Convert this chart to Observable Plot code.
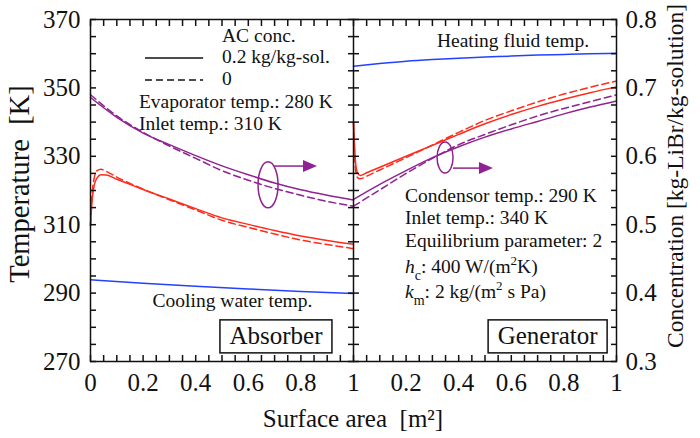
<!DOCTYPE html>
<html><head><meta charset="utf-8">
<script src="https://cdn.jsdelivr.net/npm/d3@7"></script>
<script src="https://cdn.jsdelivr.net/npm/@observablehq/plot@0.6"></script>
<style>
body{margin:0;background:#fff;}
#chart svg, #chart svg text{font-family:"Liberation Serif","Times New Roman",serif;}
</style></head><body><div id="chart"></div>
<script>
// ---------- data ----------
const panels = ["Absorber", "Generator"];
// Absorber
const xAbsRed = [0,0.004,0.008,0.015,0.025,0.04,0.06,0.1,0.15,0.2,0.3,0.4,0.5,0.6,0.7,0.8,0.9,1];
const absRedSolid  = [309.8,315.0,318.5,321.8,323.7,324.6,324.5,323.3,321.8,320.3,317.5,314.7,312.0,310.1,308.3,306.7,305.4,304.3];
const absRedDashed = [309.8,316.5,320.5,324.0,325.8,326.2,325.6,323.9,322.1,320.4,317.3,314.3,311.3,309.2,307.3,305.5,304.2,303.0];
const xAbsBlue = [0,0.2,0.4,0.6,0.8,1];
const absBlue = [293.9,292.9,292.0,291.2,290.5,289.9];
const xTenth = [0,0.1,0.2,0.3,0.4,0.5,0.6,0.7,0.8,0.9,1];
const absConcSolid  = [0.686,0.657,0.634,0.617,0.601,0.586,0.573,0.561,0.551,0.543,0.536];
const absConcDashed = [0.690,0.659,0.635,0.615,0.597,0.579,0.565,0.553,0.543,0.534,0.527];
// Generator
const xGenRed = [0,0.004,0.008,0.015,0.025,0.05,0.1,0.2,0.3,0.4,0.5,0.6,0.7,0.8,0.9,1];
const genRedSolid  = [340.0,333.0,328.0,325.2,324.4,325.2,326.8,330.0,333.2,336.4,339.5,342.2,344.6,346.7,348.6,350.3];
const genRedDashed = [340.0,331.0,326.0,323.8,323.4,324.2,326.0,329.6,333.3,337.0,340.5,343.3,345.9,348.2,350.2,352.0];
const genBlue = [356.3,357.1,357.8,358.3,358.7,359.0,359.3,359.6,359.8,360.0,360.1];
const genConcSolid  = [0.537,0.559,0.579,0.598,0.614,0.628,0.640,0.651,0.662,0.672,0.681];
const genConcDashed = [0.527,0.551,0.575,0.597,0.617,0.632,0.646,0.659,0.670,0.680,0.690];

// tick labels
const tempTicks = [270,290,310,330,350,370];
const concTicks = [0.3,0.4,0.5,0.6,0.7,0.8];
const areaTicks = [0,0.2,0.4,0.6,0.8,1];

// ---------- styling ----------
const SERIF = "Liberation Serif, Times New Roman, serif";
const RED = "#ff2b1c", BLUE = "#2441ff", PURPLE = "#8e2391";
const W = 700, H = 438, mL = 90, mR = 84, mT = 19, mB = 77;
const plotW = W - mL - mR;
const offset = {Absorber: 0, Generator: 1};
const tempDomain = [270, 370], concDomain = [0.3, 0.8];
const concToT = c => tempDomain[0] + (c - concDomain[0]) / (concDomain[1] - concDomain[0]) * (tempDomain[1] - tempDomain[0]);
const tToConc = t => concDomain[0] + (t - tempDomain[0]) / (tempDomain[1] - tempDomain[0]) * (concDomain[1] - concDomain[0]);

const series = [
  {panel:"Absorber",  xs:xAbsRed,  ys:absRedSolid,   color:RED,    dash:false, conc:false},
  {panel:"Absorber",  xs:xAbsRed,  ys:absRedDashed,  color:RED,    dash:true,  conc:false},
  {panel:"Absorber",  xs:xAbsBlue, ys:absBlue,       color:BLUE,   dash:false, conc:false},
  {panel:"Absorber",  xs:xTenth,   ys:absConcSolid,  color:PURPLE, dash:false, conc:true},
  {panel:"Absorber",  xs:xTenth,   ys:absConcDashed, color:PURPLE, dash:true,  conc:true},
  {panel:"Generator", xs:xGenRed,  ys:genRedSolid,   color:RED,    dash:false, conc:false},
  {panel:"Generator", xs:xGenRed,  ys:genRedDashed,  color:RED,    dash:true,  conc:false},
  {panel:"Generator", xs:xTenth,   ys:genBlue,       color:BLUE,   dash:false, conc:false},
  {panel:"Generator", xs:xTenth,   ys:genConcSolid,  color:PURPLE, dash:false, conc:true},
  {panel:"Generator", xs:xTenth,   ys:genConcDashed, color:PURPLE, dash:true,  conc:true}
];

const lineMarks = series.map(s => {
  const pts = s.xs.map((x, i) => ({x: offset[s.panel] + x, y: s.conc ? concToT(s.ys[i]) : s.ys[i]}));
  const o = {x:"x", y:"y", stroke:s.color, strokeWidth:1.5, curve:"monotone-x"};
  if (s.dash) o.strokeDasharray = "7,4";
  return Plot.line(pts, o);
});

// ticks
const xMinor = d3.range(41).map(i => i / 20);
const xMajor = [...areaTicks, ...areaTicks.slice(1).map(v => v + 1)];
const fmtX = d => { const v = d > 1 ? d - 1 : d; return String(+v.toFixed(2)); };
const yMinor = d3.range(21).map(i => 270 + 5 * i);
const rightTicks = concTicks.map(concToT);

// ---------- annotations ----------
const ns = "http://www.w3.org/2000/svg";
const el = (tag, attrs) => { const e = document.createElementNS(ns, tag); for (const k in attrs) e.setAttribute(k, attrs[k]); return e; };

const notes = [
  {x:0.502, y:363.3, parts:[{t:"AC conc."}]},
  {x:0.502, y:357.1, parts:[{t:"0.2 kg/kg-sol."}]},
  {x:0.502, y:350.7, parts:[{t:"0"}]},
  {x:0.186, y:344.0, parts:[{t:"Evaporator temp.: 280 K"}]},
  {x:0.186, y:337.5, parts:[{t:"Inlet temp.: 310 K"}]},
  {x:0.238, y:285.9, parts:[{t:"Cooling water temp."}]},
  {x:1.319, y:361.9, parts:[{t:"Heating fluid temp."}]},
  {x:1.198, y:316.6, parts:[{t:"Condensor temp.: 290 K"}]},
  {x:1.198, y:310.1, parts:[{t:"Inlet temp.: 340 K"}]},
  {x:1.198, y:303.4, parts:[{t:"Equilibrium parameter: 2"}]},
  {x:1.198, y:295.7, parts:[{t:"h", italic:true}, {t:"c", sub:true}, {t:": 400 W/(m"}, {t:"2", sup:true}, {t:"K)"}]},
  {x:1.198, y:288.4, parts:[{t:"k", italic:true}, {t:"m", sub:true}, {t:": 2 kg/(m"}, {t:"2", sup:true}, {t:" s Pa)"}]}
];
const legendLines = [
  {x1:0.209, x2:0.430, y:358.6, dash:false},
  {x1:0.209, x2:0.430, y:352.2, dash:true}
];
const boxes = [
  {label:"Absorber",  x:0.707, y:277.2, w:112, h:33},
  {label:"Generator", x:1.740, y:277.2, w:119, h:33}
];
const pointers = [
  {x:0.677, y:321.5, rx:10, ry:23, ay:327.0, ax1:0.700, ax2:0.863},
  {x:1.350, y:329.5, rx:8, ry:15.5, ay:326.4, ax1:1.380, ax2:1.532}
];

function notesMark(index, scales) {
  const g = el("g", {fill:"#111", "font-size":19.5, "text-anchor":"start", "font-family":SERIF});
  for (const n of notes) {
    const t = el("text", {x:scales.x(n.x), y:scales.y(n.y), "text-anchor":"start"});
    let shift = 0;
    for (const p of n.parts) {
      const s = el("tspan", {});
      let target = 0;
      if (p.sub) { target = 7; s.setAttribute("font-size", 14); }
      if (p.sup) { target = -8; s.setAttribute("font-size", 13); }
      if (target !== shift) { s.setAttribute("dy", target - shift); shift = target; }
      if (p.italic) s.setAttribute("font-style", "italic");
      s.textContent = p.t;
      t.appendChild(s);
    }
    g.appendChild(t);
  }
  for (const l of legendLines) {
    const a = {x1:scales.x(l.x1), x2:scales.x(l.x2), y1:scales.y(l.y), y2:scales.y(l.y), stroke:"#111", "stroke-width":1.5};
    if (l.dash) a["stroke-dasharray"] = "7,4";
    g.appendChild(el("line", a));
  }
  for (const b of boxes) {
    const cx = scales.x(b.x), cy = scales.y(b.y);
    g.appendChild(el("rect", {x:cx - b.w/2, y:cy - b.h/2, width:b.w, height:b.h, fill:"white", stroke:"#111", "stroke-width":1.5}));
    const t = el("text", {x:cx, y:cy + 8, "text-anchor":"middle", "font-size":25});
    t.textContent = b.label;
    g.appendChild(t);
  }
  for (const p of pointers) {
    const cx = scales.x(p.x), cy = scales.y(p.y), ay = scales.y(p.ay);
    const x1 = scales.x(p.ax1), x2 = scales.x(p.ax2);
    g.appendChild(el("ellipse", {cx, cy, rx:p.rx, ry:p.ry, fill:"none", stroke:PURPLE, "stroke-width":1.5}));
    g.appendChild(el("line", {x1, x2:x2 - 12, y1:ay, y2:ay, stroke:PURPLE, "stroke-width":1.5}));
    g.appendChild(el("path", {d:`M${x2},${ay}L${x2-14},${ay-6}L${x2-14},${ay+6}Z`, fill:PURPLE}));
  }
  return g;
}

function titlesMark(index, scales, values, dims) {
  const g = el("g", {fill:"#111", "font-size":25, "font-family":SERIF});
  const {width, height, marginLeft, marginRight, marginTop, marginBottom} = dims;
  const cx = (marginLeft + width - marginRight) / 2;
  const cy = (marginTop + height - marginBottom) / 2;
  const xt = el("text", {x:cx, y:height - 11, "text-anchor":"middle"});
  xt.textContent = "Surface area\u2002[m²]";
  g.appendChild(xt);
  const yl = el("text", {transform:`translate(${marginLeft - 61},${cy - 6}) rotate(-90)`, "text-anchor":"middle", "font-size":28.5});
  yl.textContent = "Temperature\u2002[K]";
  g.appendChild(yl);
  const yr = el("text", {transform:`translate(${width - marginRight + 67},${cy - 14}) rotate(-90)`, "text-anchor":"middle", "font-size":23.5});
  yr.textContent = "Concentration [kg-LiBr/kg-solution]";
  g.appendChild(yr);
  return g;
}

const blank = () => "";
const tickOpts = {label:null, strokeWidth:1.5, tickFormat:blank, tickSize:-6};
const labelOpts = {label:null, tickSize:0, fontSize:25, fontFamily:SERIF};
const chart = Plot.plot({
  width: W, height: H,
  marginLeft: mL, marginRight: mR, marginTop: mT, marginBottom: mB,
  x: {domain: [0, 2]},
  y: {domain: tempDomain},
  style: {fontFamily: SERIF, fontSize: "25px", color: "#111", background: "white"},
  marks: [
    ...lineMarks,
    notesMark,
    Plot.axisX({...tickOpts, anchor:"bottom", ticks:xMinor}),
    Plot.axisX({...tickOpts, anchor:"top", ticks:xMinor}),
    Plot.axisX({...labelOpts, anchor:"bottom", ticks:xMajor, tickPadding:12, tickFormat:fmtX}),
    Plot.axisY({...tickOpts, anchor:"left", ticks:yMinor}),
    Plot.axisY({...tickOpts, anchor:"right", ticks:yMinor}),
    Plot.axisY({...tickOpts, anchor:"left", ticks:yMinor, dx:plotW/2}),
    Plot.axisY({...tickOpts, anchor:"right", ticks:yMinor, dx:-plotW/2}),
    Plot.axisY({...labelOpts, anchor:"left", ticks:tempTicks, tickPadding:10}),
    Plot.axisY({...labelOpts, anchor:"right", ticks:rightTicks, tickPadding:9, tickFormat:t => tToConc(t).toFixed(1)}),
    Plot.ruleX([1], {stroke:"#111", strokeWidth:1.5}),
    Plot.frame({stroke:"#111", strokeWidth:1.5}),
    titlesMark
  ]
});
document.getElementById("chart").appendChild(chart);
</script>
</body></html>
